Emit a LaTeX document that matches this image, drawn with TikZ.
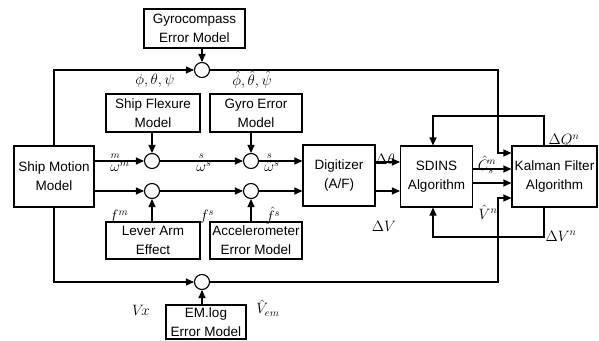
\RequirePackage{fix-cm}
\documentclass[tikz,border=0pt]{standalone}
\usepackage{amsmath}
\usepackage{fontspec}
\setsansfont{Liberation Sans}
\usetikzlibrary{arrows.meta}

\begin{document}
\begin{tikzpicture}[
  x=1pt,y=-1pt,
  font=\sffamily\fontsize{13.5}{19}\selectfont,
  blk/.style={draw,line width=1.1pt,align=center,inner sep=0pt},
  sumpt/.style={draw,circle,line width=1.1pt,minimum size=15pt,inner sep=0pt},
  flow/.style={line width=1.1pt,-{Triangle[length=8pt,width=7pt]}},
  sig/.style={font=\fontsize{15}{15}\selectfont,inner sep=0pt}
]
  \path[use as bounding box] (0,0) rectangle (599,340);
  \node[blk,minimum width=101pt,minimum height=39pt] (gyc) at (194.5,28.5) {Gyrocompass\\Error Model};
  \node[blk,minimum width=80pt,minimum height=61pt] (ship) at (54,176.5) {Ship Motion\\Model};
  \node[blk,minimum width=94pt,minimum height=38pt] (flex) at (153,113) {Ship Flexure\\Model};
  \node[blk,minimum width=92pt,minimum height=38pt] (gerr) at (256,113) {Gyro Error\\Model};
  \node[blk,minimum width=94pt,minimum height=37pt] (lever) at (153,240.5) {Lever Arm\\Effect};
  \node[blk,minimum width=92pt,minimum height=37pt] (acc) at (256,240.5) {Accelerometer\\Error Model};
  \node[blk,minimum width=72pt,minimum height=61pt] (digi) at (339,175.5) {Digitizer\\(A/F)};
  \node[blk,minimum width=72pt,minimum height=61pt] (sdins) at (436.5,176.5) {SDINS\\Algorithm};
  \node[blk,minimum width=85pt,minimum height=61pt] (kf) at (554.5,176.5) {Kalman Filter\\Algorithm};
  \node[blk,minimum width=80pt,minimum height=34pt] (emlog) at (206,322) {EM.log\\Error Model};
  \foreach \nm/\px/\py in {st/202/70,c1/152/161,c2/251/161,c3/152/191,c4/251/191,sb/202/282}{
    \node[sumpt] (\nm) at (\px,\py) {};
  }
  \coordinate (yA) at (0,162);
  \coordinate (yB) at (0,191);
  \coordinate (yC) at (0,169);
  \coordinate (yD) at (0,183);
  \coordinate (ne) at (498,70);
  \coordinate (kq) at (498,153);
  \coordinate (se) at (498,282);
  \coordinate (kv) at (498,198);
  \coordinate (fbt) at (544,116);
  \coordinate (fbtl) at (433,116);
  \coordinate (fbb) at (544,237);
  \coordinate (fbbl) at (433,237);
  \draw[flow] (gyc.south -| st) -- (st.north);
  \draw[flow] (flex.south -| c1) -- (c1.north);
  \draw[flow] (gerr.south -| c2) -- (c2.north);
  \draw[flow] (lever.north -| c3) -- (c3.south);
  \draw[flow] (acc.north -| c4) -- (c4.south);
  \draw[flow] (emlog.north -| sb) -- (sb.south);
  \foreach \a/\b in {c1/c2,c3/c4}{
    \draw[flow] (ship.east |- \a) -- (\a.west);
    \draw[flow] (\a.east) -- (\b.west);
    \draw[flow] (\b.east) -- (digi.west |- \b);
  }
  \foreach \yy in {yA,yB}{
    \draw[flow] (digi.east |- \yy) -- (sdins.west |- \yy);
  }
  \foreach \yy in {yC,yD}{
    \draw[flow] (sdins.east |- \yy) -- (kf.west |- \yy);
  }
  \draw[flow] (ship.north) -- (ship.north |- st) -- (st.west);
  \draw[flow] (st.east) -- (ne) -- (kq) -- (kq -| kf.west);
  \draw[flow] (ship.south) -- (ship.south |- sb) -- (sb.west);
  \draw[flow] (sb.east) -- (se) -- (kv) -- (kv -| kf.west);
  \draw[flow] (kf.north -| fbt) -- (fbt) -- (fbtl) -- (fbtl |- sdins.north);
  \draw[flow] (kf.south -| fbb) -- (fbb) -- (fbbl) -- (fbbl |- sdins.south);
  \node[sig] (lang) at (155,81) {$\phi,\theta,\psi$};
  \node[sig] (langh) at (252,80) {$\hat\phi,\hat\theta,\hat\psi$};
  \node[sig] (lwm) at (120,162) {$\overset{m}{\vphantom{b}\omega}{}^{m}$};
  \node[sig] (lws) at (204,162) {$\overset{s}{\vphantom{b}\omega}{}^{s}$};
  \node[sig] (lwsh) at (272,162) {$\overset{s}{\hat\omega}{}^{s}$};
  \node[sig] (lfm) at (119,217) {$f^{m}$};
  \node[sig] (lfs) at (207,217) {$f^{s}$};
  \node[sig] (lfsh) at (273,216) {$\hat{f}^{s}$};
  \node[sig] (ldth) at (385,159) {$\Delta\theta$};
  \node[sig] (ldv) at (384,226) {$\Delta V$};
  \node[sig] (lcn) at (487,165) {$\hat{C}_s^n$};
  \node[sig] (lvn) at (488,212) {$\hat{V}^n$};
  \node[sig] (ldq) at (564,141) {$\Delta Q^n$};
  \node[sig] (ldvn) at (561,236) {$\Delta V^n$};
  \node[sig] (lvx) at (141,310) {$V\!x$};
  \node[sig] (lvem) at (268,308) {$\hat{V}_{em}$};
\end{tikzpicture}
\end{document}
